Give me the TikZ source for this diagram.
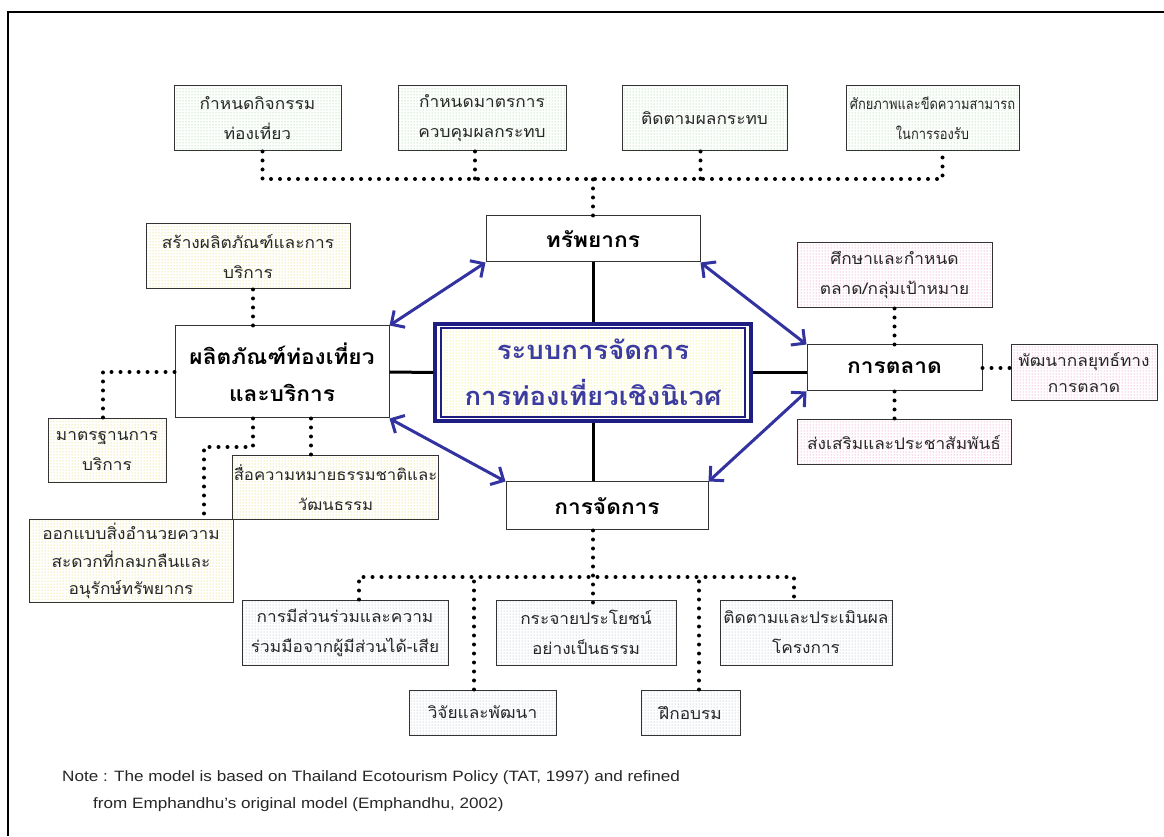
\documentclass[tikz,border=0pt]{standalone}
\usepackage{fontspec}
\setmainfont{Liberation Sans}[FakeStretch=1.14]
\newfontfamily\thaifont[Script=Thai, FakeStretch=1.08]{Loma}
\newfontfamily\thainarrow[Script=Thai, FakeStretch=0.86]{Loma}
\usetikzlibrary{arrows.meta,patterns}

\begin{document}
\begin{tikzpicture}[x=1pt,y=1pt]
    % Define colors
    \definecolor{framenavy}{RGB}{30,30,130}
    \definecolor{arrownavy}{RGB}{50,50,160}
    \definecolor{titleblue}{RGB}{60,60,160}
    \definecolor{dotgreen}{RGB}{120,195,120}
    \definecolor{dotyellow}{RGB}{220,205,60}
    \definecolor{dotpink}{RGB}{230,110,175}
    \definecolor{dotgrey}{RGB}{150,170,190}
    \definecolor{coreyellow}{RGB}{235,230,40}

    \tikzset{
      box/.style={draw=black!80, line width=1pt, align=center, inner sep=1pt,
        text=black!85, font=\thaifont\fontsize{16}{30}\selectfont},
      greenbox/.style={box, pattern=dots, pattern color=dotgreen},
      yellowbox/.style={box, pattern=dots, pattern color=dotyellow},
      pinkbox/.style={box, pattern=dots, pattern color=dotpink},
      greybox/.style={box, pattern=dots, pattern color=dotgrey},
      mainbox/.style={draw=black!80, line width=1pt, fill=white, align=center,
        font=\thaifont\bfseries\fontsize{21}{37}\selectfont},
      solidlink/.style={line width=3pt},
      dotlink/.style={line width=4pt, dash pattern=on 0pt off 9pt, line cap=round},
      bothway/.style={arrownavy, line width=3pt,
        {Straight Barb[length=10pt,width=20pt]}-{Straight Barb[length=10pt,width=20pt]}}
    }

    \useasboundingbox (0,0) rectangle (1164,836);

    % Page frame
    \draw[line width=2pt] (8,0) -- (8,824) -- (1164,824);

    % Resource branch
    \node[greenbox, minimum width=167pt, minimum height=65pt] (act) at (257.5,717.5) {กำหนดกิจกรรม\\ท่องเที่ยว};
    \node[greenbox, minimum width=168pt, minimum height=65pt] (ctl) at (482,717.5) {กำหนดมาตรการ\\ควบคุมผลกระทบ};
    \node[greenbox, minimum width=165pt, minimum height=65pt] (mon) at (704.5,717.5) {ติดตามผลกระทบ};
    \node[greenbox, minimum width=173pt, minimum height=65pt, font=\thainarrow\fontsize{15}{30}\selectfont] (cap) at (932.5,717.5) {ศักยภาพและขีดความสามารถ\\ในการรองรับ};
    \node[mainbox, minimum width=214pt, minimum height=46pt] (res) at (593,597) {ทรัพยากร};

    % Core system
    \node[draw=framenavy, line width=3.5pt, minimum width=316pt, minimum height=97pt] (coreframe) at (593,463.5) {};
    \node[draw=framenavy, line width=1.5pt, pattern=dots, pattern color=coreyellow,
      minimum width=304pt, minimum height=89pt, align=center, text=titleblue,
      font=\thaifont\bfseries\fontsize{25.5}{46}\selectfont] (core) at (593,463.5)
      {ระบบการจัดการ\\การท่องเที่ยวเชิงนิเวศ};

    % Product branch
    \node[mainbox, minimum width=214pt, minimum height=92pt] (prod) at (282,464) {ผลิตภัณฑ์ท่องเที่ยว\\และบริการ};
    \node[yellowbox, minimum width=204pt, minimum height=65pt] (make) at (248,579.5) {สร้างผลิตภัณฑ์และการ\\บริการ};
    \node[yellowbox, minimum width=118pt, minimum height=64pt] (std) at (107,385) {มาตรฐานการ\\บริการ};
    \node[yellowbox, minimum width=205pt, minimum height=64pt, font=\thaifont\fontsize{15.5}{30}\selectfont] (interp) at (335.5,348) {สื่อความหมายธรรมชาติและ\\วัฒนธรรม};
    \node[yellowbox, minimum width=204pt, minimum height=82pt, font=\thaifont\fontsize{16}{27.5}\selectfont] (design) at (131,275) {ออกแบบสิ่งอำนวยความ\\สะดวกที่กลมกลืนและ\\อนุรักษ์ทรัพยากร};

    % Marketing branch
    \node[mainbox, minimum width=175pt, minimum height=46pt] (mkt) at (894.5,468) {การตลาด};
    \node[pinkbox, minimum width=195pt, minimum height=65pt] (target) at (894.5,560.5) {ศึกษาและกำหนด\\ตลาด/กลุ่มเป้าหมาย};
    \node[pinkbox, minimum width=146pt, minimum height=56pt, font=\thaifont\fontsize{16}{26}\selectfont] (strat) at (1084,463) {พัฒนากลยุทธ์ทาง\\การตลาด};
    \node[pinkbox, minimum width=214pt, minimum height=45pt] (promo) at (904,393.5) {ส่งเสริมและประชาสัมพันธ์};

    % Management branch
    \node[mainbox, minimum width=202pt, minimum height=48pt] (mgt) at (607,330) {การจัดการ};
    \node[greybox, minimum width=206pt, minimum height=65pt] (part) at (345,203.5) {การมีส่วนร่วมและความ\\ร่วมมือจากผู้มีส่วนได้-เสีย};
    \node[greybox, minimum width=180pt, minimum height=65pt] (fair) at (586,203.5) {กระจายประโยชน์\\อย่างเป็นธรรม};
    \node[greybox, minimum width=172pt, minimum height=65pt] (eval) at (806,203.5) {ติดตามและประเมินผล\\โครงการ};
    \node[greybox, minimum width=147pt, minimum height=45pt] (resrch) at (482.5,123.5) {วิจัยและพัฒนา};
    \node[greybox, minimum width=99pt, minimum height=45pt] (train) at (690.5,123.5) {ฝึกอบรม};

    % Solid links to the core
    \draw[solidlink] (res.south) -- (coreframe.north);
    \draw[solidlink] (coreframe.west) -- (prod.east);
    \draw[solidlink] (coreframe.east) -- (coreframe.east -| mkt.west);
    \draw[solidlink] (coreframe.south) -- (coreframe.south |- mgt.north);

    % Two-way arrows between branches
    \draw[bothway] (prod.north east) -- (res.south west);
    \draw[bothway] (res.south east) -- (mkt.north west);
    \draw[bothway] (mkt.south west) -- (mgt.north east);
    \draw[bothway] (mgt.north west) -- (prod.south east);

    % Dotted links - resources
    \coordinate (topbus) at (593,657);
    \draw[dotlink] ([xshift=5pt]act.south) |- (topbus) -| ([xshift=10pt]cap.south);
    \draw[dotlink] ([xshift=-7pt]ctl.south) -- ([xshift=-7pt]ctl.south |- topbus);
    \draw[dotlink] ([xshift=-4pt]mon.south) -- ([xshift=-4pt]mon.south |- topbus);
    \draw[dotlink] (res.north) -- (topbus);

    % Dotted links - products
    \coordinate (designbend) at (204,389);
    \draw[dotlink] ([xshift=5pt]make.south) -- ([xshift=5pt]make.south |- prod.north);
    \draw[dotlink] (prod.west) -| ([xshift=-4pt]std.north);
    \draw[dotlink] ([xshift=-29pt]prod.south) |- (designbend) -- (designbend |- design.north);
    \draw[dotlink] ([xshift=29pt]prod.south) -- ([xshift=29pt]prod.south |- interp.north);

    % Dotted links - marketing
    \draw[dotlink] (target.south) -- (mkt.north);
    \draw[dotlink] (mkt.south) -- (mkt.south |- promo.north);
    \draw[dotlink] (mkt.east) -- (mkt.east -| strat.west);

    % Dotted links - management
    \coordinate (lowbus) at (593,259);
    \draw[dotlink] ([xshift=14pt]part.north) |- (lowbus) -| ([xshift=-12pt]eval.north);
    \draw[dotlink] ([xshift=-8.5pt]resrch.north) -- ([xshift=-8.5pt]resrch.north |- lowbus);
    \draw[dotlink] ([xshift=8.5pt]train.north) -- ([xshift=8.5pt]train.north |- lowbus);
    \draw[dotlink] (coreframe.south |- mgt.south) -- ([yshift=-9pt]coreframe.south |- fair.north);

    % Note
    \node[anchor=base west, inner sep=0pt, font=\fontsize{15}{16}\selectfont, text=black!85] (noteA) at (62,55)
      {Note : The model is based on Thailand Ecotourism Policy (TAT, 1997) and refined};
    \node[anchor=base west, inner sep=0pt, font=\fontsize{15}{16}\selectfont, text=black!85] (noteB) at (93,28)
      {from Emphandhu’s original model (Emphandhu, 2002)};
\end{tikzpicture}
\end{document}
